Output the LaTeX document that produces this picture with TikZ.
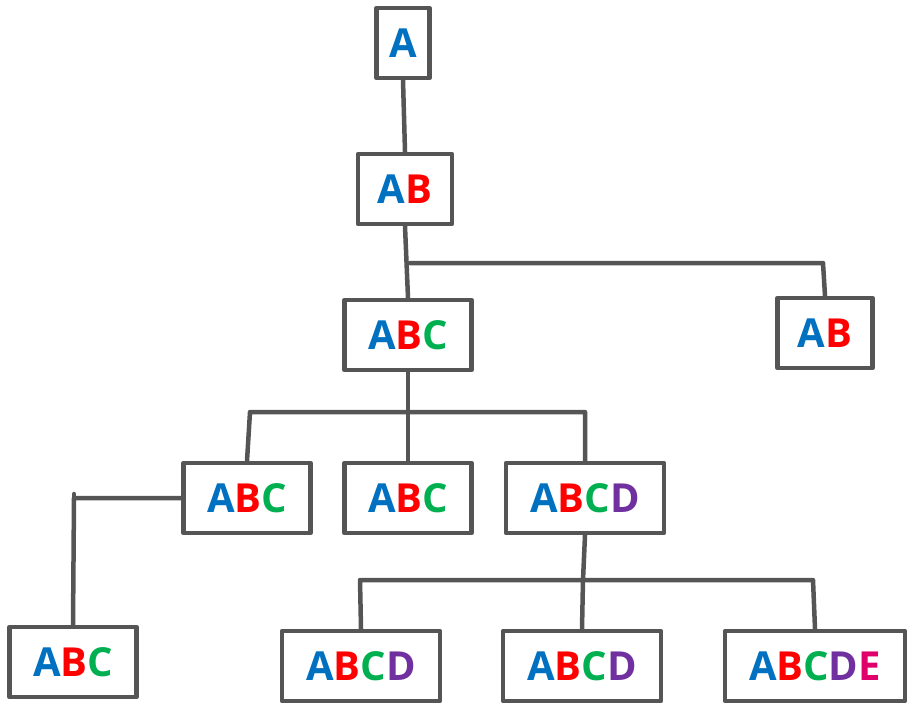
\documentclass[tikz,border=0pt]{standalone}
\usepackage{fontspec}
\setmainfont{Open Sans}
\definecolor{cA}{HTML}{0070C0}
\definecolor{cB}{HTML}{FF0000}
\definecolor{cC}{HTML}{00B050}
\definecolor{cD}{HTML}{7030A0}
\definecolor{cE}{HTML}{E0006B}
\definecolor{edge}{HTML}{555555}
\newcommand{\lA}{\textcolor{cA}{A}}
\newcommand{\lB}{\textcolor{cB}{B}}
\newcommand{\lC}{\textcolor{cC}{C}}
\newcommand{\lD}{\textcolor{cD}{D}}
\newcommand{\lE}{\textcolor{cE}{E}}
\begin{document}
\begin{tikzpicture}[x=1pt, y=-1pt, line cap=round, line join=round,
  box/.style={draw=edge, line width=4.5pt, minimum height=70pt, inner sep=0pt,
    font=\fontsize{40}{40}\selectfont\bfseries},
  link/.style={draw=edge, line width=4.5pt}]
  \useasboundingbox (0,0) rectangle (912,712);

  \node[box, minimum width=53pt]  (a)    at (403,43)  {\lA};
  \node[box, minimum width=94pt]  (ab)   at (405,189) {\lA\lB};
  \node[box, minimum width=127pt] (abc)  at (408,335) {\lA\lB\lC};
  \node[box, minimum width=95pt]  (abr)  at (825,333) {\lA\lB};
  \node[box, minimum width=127pt] (abc1) at (247,498) {\lA\lB\lC};
  \node[box, minimum width=127pt] (abc2) at (408,498) {\lA\lB\lC};
  \node[box, minimum width=158pt] (abcd) at (585,498) {\lA\lB\lC\lD};
  \node[box, minimum width=127pt] (abc3) at (73,662)  {\lA\lB\lC};
  \node[box, minimum width=158pt] (d1)   at (361,666) {\lA\lB\lC\lD};
  \node[box, minimum width=158pt] (d2)   at (582,666) {\lA\lB\lC\lD};
  \node[box, minimum width=180pt] (e1)   at (815,666) {\lA\lB\lC\lD\lE};

  % level links
  \draw[link] (a.south) -- (ab.north);
  \draw[link] (ab.south) -- (abc.north);
  \coordinate (j1) at (410,263);
  \draw[link] (j1) -- (823,263) -- (abr.north);
  \draw[link] (abc.south) -- (408,412);
  \draw[link] (abc1.north) -- (250,412) -- (585,412) -- (abcd.north);
  \draw[link] (408,412) -- (abc2.north);
  \coordinate (j2) at (74,494);
  \draw[link] (abc1.west) -- (74,498) -- (abc3.north);
  \draw[link] (j2) -- (74,498);
  \draw[link] (abcd.south) -- (583,580);
  \draw[link] (d1.north) -- (360,580) -- (813,580) -- (e1.north);
  \draw[link] (583,580) -- (d2.north);
\end{tikzpicture}
\end{document}
